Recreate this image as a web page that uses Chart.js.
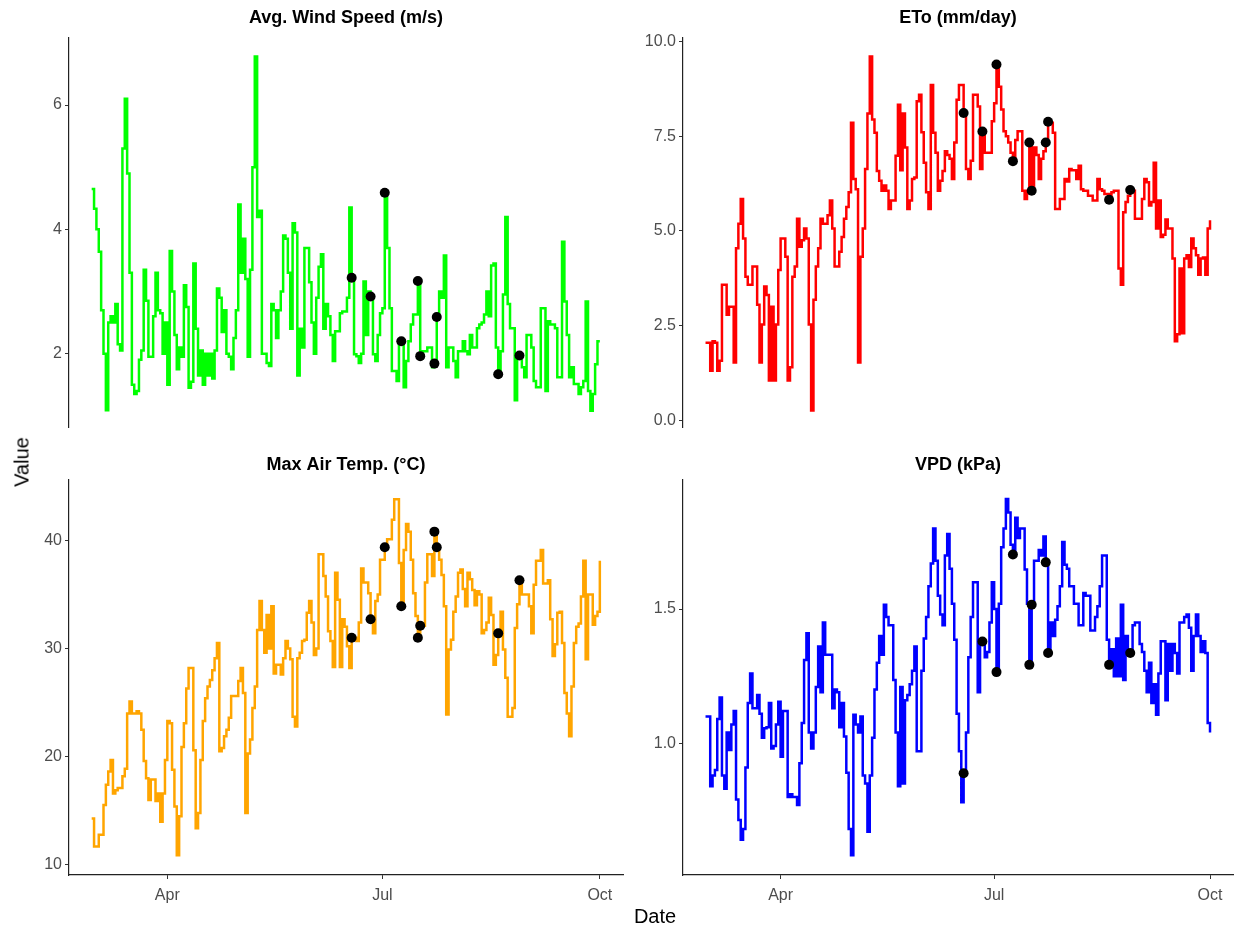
<!DOCTYPE html>
<html>
<head>
<meta charset="utf-8">
<script src="https://cdn.jsdelivr.net/npm/chart.js@4.4.1/dist/chart.umd.min.js"></script>
<style>
  html, body { margin: 0; padding: 0; background: #fff; }
  body { width: 1238px; height: 933px; position: relative; overflow: hidden; font-family: "Liberation Sans", Arial, sans-serif; }
  .panel { position: absolute; }
  .axis-title { position: absolute; font-size: 20px; color: #000; white-space: nowrap; }
</style>
</head>
<body>
<div class="panel" style="left:0px;top:0px"><canvas id="windChart" width="630" height="432"></canvas></div>
<div class="panel" style="left:620px;top:0px"><canvas id="etoChart" width="618" height="432"></canvas></div>
<div class="panel" style="left:0px;top:437px"><canvas id="tempChart" width="630" height="478"></canvas></div>
<div class="panel" style="left:620px;top:437px"><canvas id="vpdChart" width="618" height="478"></canvas></div>
<div class="axis-title" style="left:22px;top:462px;transform:translate(-50%,-50%) rotate(-90deg);">Value</div>
<div class="axis-title" style="left:655px;top:916px;transform:translate(-50%,-50%);">Date</div>
<script>
// Jour de l'année du premier relevé (28 février), un relevé par jour ensuite
const firstDay = 59;

// Vitesse moyenne du vent (m/s)
const windSpeed = [
  4.65, 4.33, 4.0, 3.64, 2.7, 2.0, 1.09, 2.5, 2.6, 2.5,
  2.8, 2.15, 2.05, 5.3, 6.1, 4.9, 3.3, 1.5, 1.35, 1.4,
  1.9, 2.05, 3.35, 2.85, 1.95, 1.95, 2.6, 3.3, 2.7, 2.65,
  2.0, 2.5, 1.5, 3.65, 3.0, 2.3, 1.75, 2.1, 1.95, 3.1,
  2.75, 1.45, 1.55, 3.45, 2.4, 1.65, 2.05, 1.5, 2.0, 1.65,
  2.0, 1.6, 2.05, 3.05, 2.9, 2.35, 2.7, 2.0, 1.95, 1.75,
  2.25, 2.7, 4.4, 3.3, 3.85, 3.2, 1.95, 3.35, 5.0, 6.78,
  4.2, 4.3, 2.0, 2.0, 1.85, 1.8, 2.8, 2.7, 2.25, 2.7,
  3.0, 3.9, 3.85, 3.3, 2.4, 4.1, 3.95, 1.65, 2.4, 2.1,
  3.7, 3.7, 3.15, 2.5, 2.0, 2.9, 3.4, 3.6, 2.4, 2.8,
  2.6, 2.3, 1.88, 2.36, 2.36, 2.65, 2.68, 2.68, 2.9, 4.35,
  3.22, 1.99, 1.96, 1.85, 2.0, 3.16, 2.3, 3.0, 2.92, 1.99,
  1.88, 2.3, 2.65, 2.73, 4.59, 3.7, 2.73, 1.72, 1.72, 1.56,
  2.2, 2.2, 1.46, 1.88, 2.2, 2.47, 2.63, 2.63, 3.17, 1.96,
  2.04, 2.04, 2.1, 2.1, 1.78, 1.84, 2.59, 3.0, 2.9, 3.58,
  1.78, 2.1, 2.1, 1.88, 1.62, 2.04, 2.04, 2.2, 2.04, 1.99,
  2.3, 2.1, 2.1, 2.41, 2.47, 2.5, 2.63, 3.0, 2.6, 3.42,
  3.45, 2.1, 1.67, 2.04, 2.95, 4.2, 2.8, 2.41, 2.41, 1.25,
  1.97, 1.97, 1.78, 1.62, 2.3, 2.3, 2.1, 1.56, 1.46, 1.46,
  2.73, 2.73, 1.4, 2.52, 2.47, 2.47, 2.41, 1.62, 1.62, 3.8,
  2.84, 2.3, 1.62, 1.78, 1.51, 1.51, 1.35, 1.46, 1.56, 2.84,
  1.4, 1.08, 1.35, 1.83, 2.2, 2.2
];

// ETo (mm/jour)
const eto = [
  2.05, 2.05, 1.31, 2.09, 2.05, 1.31, 1.57, 3.58, 3.58, 2.79,
  3.0, 3.0, 1.53, 4.54, 5.19, 5.84, 4.8, 3.79, 3.58, 3.58,
  4.06, 4.06, 3.05, 1.53, 2.53, 3.53, 3.31, 1.05, 3.0, 1.05,
  2.53, 3.97, 4.8, 4.8, 4.32, 1.05, 1.4, 3.79, 4.06, 5.32,
  4.58, 4.75, 5.06, 4.8, 2.53, 0.26, 3.18, 4.06, 4.54, 5.32,
  5.19, 5.19, 5.41, 5.8, 5.06, 4.06, 4.06, 4.45, 4.84, 5.32,
  5.63, 6.02, 7.85, 6.37, 6.1, 1.53, 4.32, 5.06, 6.63, 8.1,
  9.6, 7.94, 7.59, 6.58, 6.32, 6.06, 6.2, 6.06, 5.58, 5.8,
  5.8, 6.98, 8.33, 6.6, 8.1, 7.2, 5.58, 5.8, 6.37, 6.41,
  8.42, 8.59, 7.6, 6.8, 6.02, 5.58, 8.85, 7.59, 7.06, 6.06,
  6.32, 6.58, 7.1, 7.0, 6.9, 6.37, 7.33, 8.46, 8.85, 8.85,
  8.11, 6.63, 6.37, 6.85, 8.59, 8.59, 8.28, 6.63, 7.62, 7.06,
  7.06, 7.06, 7.89, 8.37, 9.39, 8.8, 8.2, 7.63, 7.5, 7.33,
  7.06, 6.84, 7.4, 7.63, 7.63, 6.06, 5.84, 6.06, 7.33, 6.06,
  7.2, 7.0, 6.37, 6.9, 7.1, 7.33, 7.88, 7.85, 7.59, 5.58,
  5.58, 5.84, 5.84, 6.37, 6.3, 6.63, 6.6, 6.6, 6.37, 6.72,
  6.1, 6.06, 6.06, 5.93, 5.93, 5.8, 5.8, 6.37, 6.1, 6.06,
  5.97, 5.97, 5.82, 6.02, 6.06, 6.06, 4.01, 3.58, 5.49, 5.76,
  5.93, 6.08, 6.06, 5.32, 5.32, 5.32, 5.84, 6.37, 6.28, 5.67,
  5.76, 6.8, 5.06, 5.8, 4.84, 4.9, 5.3, 5.06, 5.06, 4.27,
  2.09, 2.27, 4.01, 2.3, 4.27, 4.36, 4.05, 4.8, 4.54, 4.36,
  3.84, 4.27, 4.3, 3.84, 5.06, 5.28
];

// Température max de l'air (°C)
const maxTemp = [
  14.3, 11.7, 11.7, 12.8, 12.8, 15.55, 17.4, 18.63, 19.7, 16.6,
  16.9, 17.1, 17.1, 18.2, 18.9, 24.0, 25.1, 24.0, 24.0, 24.2,
  24.0, 22.5, 19.6, 18.0, 16.0, 17.9, 17.9, 15.9, 16.6, 14.0,
  16.6, 19.7, 23.3, 23.1, 18.8, 15.4, 10.9, 14.5, 20.9, 23.1,
  26.3, 28.2, 28.2, 20.6, 13.4, 14.8, 19.7, 23.3, 25.4, 26.5,
  27.1, 28.0, 29.1, 30.5, 20.5, 20.8, 21.9, 22.5, 23.6, 25.6,
  25.6, 25.6, 27.0, 28.2, 25.9, 14.8, 20.3, 21.6, 24.5, 26.5,
  31.7, 34.4, 31.7, 29.6, 33.1, 30.0, 33.9, 27.7, 28.5, 28.5,
  27.6, 29.1, 30.7, 30.0, 29.0, 23.7, 22.8, 29.1, 29.6, 30.7,
  30.8, 33.3, 34.4, 32.4, 29.4, 30.0, 38.7, 38.7, 36.7, 34.8,
  31.6, 30.7, 28.3, 37.0, 34.5, 28.3, 32.7, 32.0, 30.2, 28.2,
  31.0, 31.0, 30.7, 32.4, 37.4, 36.1, 36.1, 35.1, 32.7, 31.4,
  34.4, 35.0, 38.2, 38.2, 39.35, 40.1, 40.1, 41.9, 43.8, 43.8,
  37.9, 33.9, 39.1, 41.5, 40.8, 38.2, 35.1, 33.0, 31.0, 32.1,
  32.1, 36.1, 38.7, 38.7, 36.7, 40.8, 39.35, 38.2, 36.8, 33.9,
  23.9, 29.9, 30.8, 33.4, 34.8, 37.0, 37.3, 35.5, 33.9, 37.0,
  36.4, 35.4, 34.0, 35.3, 35.0, 31.4, 31.7, 32.4, 34.7, 33.1,
  28.5, 29.4, 31.4, 33.4, 29.9, 27.3, 23.7, 23.7, 24.5, 31.9,
  34.1, 36.3, 35.0, 35.0, 35.0, 33.9, 31.4, 35.9, 38.1, 38.1,
  39.1, 36.0, 36.0, 36.3, 32.7, 29.3, 30.4, 33.3, 33.4, 30.5,
  25.9, 24.0, 21.9, 26.5, 30.5, 32.0, 32.3, 34.8, 38.1, 29.0,
  35.0, 35.0, 32.2, 33.0, 33.4, 38.1
];

// Déficit de pression de vapeur (kPa)
const vpd = [
  1.10, 1.10, 0.84, 0.88, 0.90, 1.09, 1.17, 0.88, 0.83, 1.04,
  0.975, 1.07, 1.12, 0.79, 0.714, 0.64, 0.68, 0.91, 1.15, 1.26,
  1.13, 1.13, 1.18, 1.11, 1.02, 1.056, 1.06, 1.15, 0.98, 0.99,
  1.07, 1.155, 0.95, 1.12, 1.12, 0.80, 0.81, 0.80, 0.80, 0.77,
  0.925, 1.075, 1.31, 1.41, 1.04, 0.98, 1.04, 1.21, 1.36, 1.19,
  1.45, 1.33, 1.33, 1.33, 1.13, 1.2, 1.19, 1.06, 1.15, 1.025,
  0.89, 0.68, 0.583, 1.106, 1.07, 1.04, 1.1, 0.88, 0.85, 0.67,
  0.88, 1.02, 1.2, 1.3, 1.40, 1.33, 1.516, 1.47, 1.44, 1.44,
  1.236, 1.04, 0.84, 1.21, 0.85, 1.16, 1.18, 1.22, 1.27, 1.36,
  0.97, 0.97, 1.27, 1.39, 1.47, 1.585, 1.67, 1.80, 1.68, 1.55,
  1.48, 1.44, 1.70, 1.78, 1.65, 1.52, 1.386, 1.11, 0.97, 0.78,
  0.888, 1.04, 1.32, 1.47, 1.60, 1.60, 1.19, 1.38, 1.38, 1.32,
  1.34, 1.45, 1.60, 1.50, 1.265, 1.52, 1.73, 1.80, 1.91, 1.86,
  1.74, 1.70, 1.84, 1.765, 1.80, 1.80, 1.647, 1.52, 1.29, 1.516,
  1.68, 1.68, 1.72, 1.70, 1.77, 1.674, 1.336, 1.45, 1.40, 1.46,
  1.51, 1.585, 1.75, 1.665, 1.65, 1.585, 1.585, 1.52, 1.52, 1.44,
  1.44, 1.56, 1.55, 1.55, 1.42, 1.42, 1.47, 1.51, 1.585, 1.70,
  1.70, 1.386, 1.29, 1.35, 1.25, 1.39, 1.25, 1.516, 1.236, 1.40,
  1.34, 1.336, 1.44, 1.45, 1.45, 1.37, 1.34, 1.27, 1.19, 1.30,
  1.15, 1.22, 1.106, 1.26, 1.38, 1.38, 1.16, 1.37, 1.27, 1.37,
  1.336, 1.26, 1.45, 1.45, 1.47, 1.48, 1.43, 1.27, 1.40, 1.48,
  1.40, 1.34, 1.38, 1.336, 1.075, 1.04
];

// Jours marqués par un point noir (jour de l'année) et leurs valeurs
const eventDays = [169, 177, 183, 190, 197, 198, 204, 205, 231, 240];
const windEvents = [3.22, 2.92, 4.59, 2.20, 3.17, 1.96, 1.84, 2.59, 1.67, 1.97];
const etoEvents = [8.11, 7.62, 9.39, 6.84, 7.33, 6.06, 7.33, 7.88, 5.82, 6.08];
const tempEvents = [31.0, 32.7, 39.35, 33.9, 31.0, 32.1, 40.8, 39.35, 31.4, 36.3];
const vpdEvents = [0.888, 1.379, 1.265, 1.703, 1.292, 1.516, 1.674, 1.336, 1.292, 1.336];

// Graduations
const monthTickDays = [91, 182, 274];
const monthTickLabels = ['Apr', 'Jul', 'Oct'];
const windTicks = [2, 4, 6];
const windTickLabels = ['2', '4', '6'];
const etoTicks = [0, 2.5, 5, 7.5, 10];
const etoTickLabels = ['0.0', '2.5', '5.0', '7.5', '10.0'];
const tempTicks = [10, 20, 30, 40];
const tempTickLabels = ['10', '20', '30', '40'];
const vpdTicks = [1.0, 1.5];
const vpdTickLabels = ['1.0', '1.5'];

Chart.defaults.font.family = '"Liberation Sans", Arial, sans-serif';

function toPoints(values) {
    return values.map((v, i) => ({ x: firstDay + i, y: v }));
}

function eventPoints(values) {
    return eventDays.map((d, i) => ({ x: d, y: values[i] }));
}

function makePanel(id, p) {
    const ctx = document.getElementById(id).getContext('2d');
    return new Chart(ctx, {
        type: 'line',
        data: {
            datasets: [
                {
                    type: 'scatter',
                    data: eventPoints(p.events),
                    backgroundColor: '#000000',
                    borderWidth: 0,
                    pointRadius: 5,
                    order: 0
                },
                {
                    data: toPoints(p.values),
                    borderColor: p.color,
                    borderWidth: 2.5,
                    stepped: true,
                    pointRadius: 0,
                    fill: false,
                    order: 1
                }
            ]
        },
        options: {
            responsive: false,
            animation: false,
            layout: { padding: p.padding },
            plugins: {
                legend: { display: false },
                tooltip: { enabled: false },
                title: {
                    display: true,
                    text: p.title,
                    fullSize: false,
                    color: '#000000',
                    font: { size: 18, weight: 'bold' },
                    padding: p.titlePadding
                }
            },
            scales: {
                x: {
                    type: 'linear',
                    min: 49.4,
                    max: 283.8,
                    display: p.showX,
                    afterBuildTicks: s => { s.ticks = monthTickDays.map(v => ({ value: v })); },
                    afterFit: s => {
                        if (!p.showX) return;
                        s.height = 40;
                        s.paddingLeft = 0;
                        s.paddingRight = 0;
                    },
                    ticks: {
                        callback: v => monthTickLabels[monthTickDays.indexOf(v)],
                        color: '#4D4D4D',
                        font: { size: 16 },
                        padding: 7,
                        autoSkip: false,
                        maxRotation: 0
                    },
                    grid: { drawOnChartArea: false, drawTicks: true, tickLength: 4, color: '#333333' },
                    border: { color: '#222222', width: 1.2 }
                },
                y: {
                    type: 'linear',
                    min: p.yMin,
                    max: p.yMax,
                    afterBuildTicks: s => { s.ticks = p.ticks.map(v => ({ value: v })); },
                    afterFit: s => { s.width = p.yWidth; s.paddingTop = 0; s.paddingBottom = 0; },
                    ticks: {
                        callback: v => p.tickLabels[p.ticks.indexOf(v)],
                        color: '#4D4D4D',
                        font: { size: 16 },
                        padding: 3
                    },
                    grid: { drawOnChartArea: false, drawTicks: true, tickLength: 4, color: '#333333' },
                    border: { color: '#222222', width: 1.2 }
                }
            }
        }
    });
}

makePanel('windChart', {
    title: 'Avg. Wind Speed (m/s)', values: windSpeed, events: windEvents, color: '#00FF00',
    yMin: 0.82, yMax: 7.085, ticks: windTicks, tickLabels: windTickLabels,
    yWidth: 69, showX: false,
    padding: { left: 0, right: 7, top: 0, bottom: 1 },
    titlePadding: { top: 7, bottom: 9 }
});

makePanel('etoChart', {
    title: 'ETo (mm/day)', values: eto, events: etoEvents, color: '#FF0000',
    yMin: -0.175, yMax: 10.1, ticks: etoTicks, tickLabels: etoTickLabels,
    yWidth: 63, showX: false,
    padding: { left: 0, right: 1, top: 0, bottom: 1 },
    titlePadding: { top: 7, bottom: 9 }
});

makePanel('tempChart', {
    title: 'Max Air Temp. (°C)', values: maxTemp, events: tempEvents, color: '#FFA500',
    yMin: 9.07, yMax: 45.6, ticks: tempTicks, tickLabels: tempTickLabels,
    yWidth: 69, showX: true,
    padding: { left: 0, right: 7, top: 0, bottom: 0 },
    titlePadding: { top: 17.5, bottom: 3.6 }
});

makePanel('vpdChart', {
    title: 'VPD (kPa)', values: vpd, events: vpdEvents, color: '#0000FF',
    yMin: 0.509, yMax: 1.982, ticks: vpdTicks, tickLabels: vpdTickLabels,
    yWidth: 63, showX: true,
    padding: { left: 0, right: 1, top: 0, bottom: 0 },
    titlePadding: { top: 17.5, bottom: 3.6 }
});
</script>
</body>
</html>
